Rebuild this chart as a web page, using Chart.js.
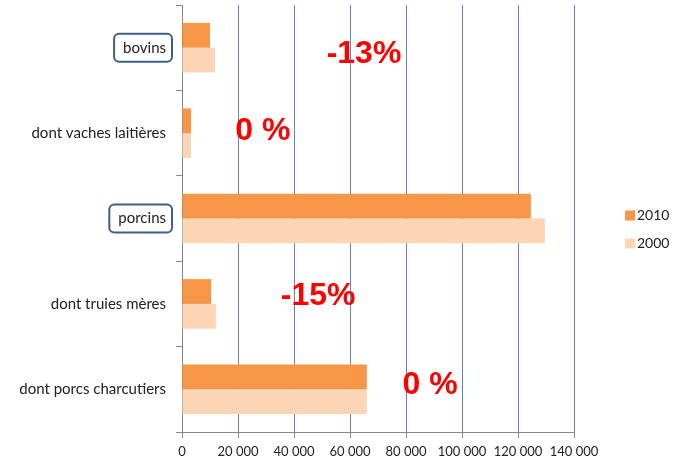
<!DOCTYPE html>
<html lang="fr">
<head>
<meta charset="UTF-8" />
<title>Cheptel 2000 / 2010</title>
<script src="https://cdn.jsdelivr.net/npm/chart.js@4.4.0/dist/chart.umd.min.js"></script>
<style>
  html, body { margin: 0; padding: 0; background: #fff; }
  #wrap { width: 675px; height: 459px; position: relative; }
</style>
</head>
<body>
<div id="wrap"><canvas id="chart"></canvas></div>
<script>
// data
const categories = ["bovins", "dont vaches laitières", "porcins", "dont truies mères", "dont porcs charcutiers"];
const values2010 = [10000, 3200, 124600, 10400, 66000];
const values2000 = [11800, 3200, 129600, 12100, 66000];
const seriesNames = ["2010", "2000"];
const xTicks = [0, 20000, 40000, 60000, 80000, 100000, 120000, 140000];
const boxedLabels = ["bovins", "porcins"];
// percent notes: text, category, x value where the text is centred
const noteTexts = ["-13%", "0 %", "-15%", "0 %"];
const noteCats = ["bovins", "dont vaches laitières", "dont truies mères", "dont porcs charcutiers"];
const noteX = [65000, 28900, 48600, 88600];
const noteDy = [6, -2, -8, -4];

const colors = ["#f79646", "#fcd5b5"];
const labelFont = "Lato, 'Open Sans', sans-serif";

function fmt(v) {
  return String(v).replace(/\B(?=(\d{3})+(?!\d))/g, " ");
}

// rounded boxes around some category labels, red notes and legend
const extras = {
  id: "extras",
  afterDraw(chart) {
    const ctx = chart.ctx;
    const y = chart.scales.y;
    const x = chart.scales.x;
    ctx.save();
    // boxes
    ctx.font = "15px " + labelFont;
    ctx.strokeStyle = "#3d5f8a";
    ctx.lineWidth = 2;
    boxedLabels.forEach((lab) => {
      const i = categories.indexOf(lab);
      const cy = y.getPixelForValue(i);
      const right = 172;
      const w = ctx.measureText(lab).width + 15;
      ctx.beginPath();
      ctx.roundRect(right - w, cy - 14, w, 28, 5);
      ctx.stroke();
    });
    // red notes
    ctx.fillStyle = "#ff0000";
    ctx.font = "bold 32px 'Liberation Sans', Arial, sans-serif";
    ctx.textAlign = "center";
    ctx.textBaseline = "middle";
    noteTexts.forEach((t, k) => {
      const px = x.getPixelForValue(noteX[k]);
      const py = y.getPixelForValue(categories.indexOf(noteCats[k])) + noteDy[k];
      ctx.fillText(t, px, py);
    });
    // legend
    ctx.font = "14px " + labelFont;
    ctx.textAlign = "left";
    const mid = (chart.chartArea.top + chart.chartArea.bottom) / 2;
    seriesNames.forEach((n, k) => {
      const ly = mid - 3 + k * 28;
      ctx.fillStyle = colors[k];
      ctx.fillRect(625, ly - 5, 10, 10);
      ctx.fillStyle = "#222";
      ctx.fillText(n, 637, ly);
    });
    ctx.restore();
  }
};

new Chart(document.getElementById("chart"), {
  type: "bar",
  data: {
    labels: categories,
    datasets: [
      { label: seriesNames[0], data: values2010, backgroundColor: colors[0] },
      { label: seriesNames[1], data: values2000, backgroundColor: colors[1] }
    ]
  },
  options: {
    indexAxis: "y",
    responsive: true,
    maintainAspectRatio: false,
    animation: false,
    layout: { padding: { top: 5, right: 101, left: 0, bottom: 0 } },
    datasets: { bar: { categoryPercentage: 0.58, barPercentage: 1 } },
    plugins: {
      legend: { display: false },
      tooltip: { enabled: false }
    },
    scales: {
      x: {
        min: 0,
        max: 140000,
        afterBuildTicks(scale) {
          scale.ticks = xTicks.map((v) => ({ value: v }));
        },
        afterFit(scale) { scale.height = 27; },
        ticks: {
          callback: (v) => fmt(v),
          color: "#222",
          font: { family: labelFont, size: 13 },
          padding: 6,
          maxRotation: 0
        },
        grid: {
          color: (c) => (c.index === 0 ? "#888" : "#5b87c5"),
          tickColor: "#888",
          tickLength: 6
        },
        border: { color: "#888" }
      },
      y: {
        afterFit(scale) {
          scale.width = 182;
          scale.paddingTop = 0;
          scale.paddingBottom = 0;
        },
        ticks: {
          color: "#222",
          font: { family: labelFont, size: 15 },
          padding: 10
        },
        grid: {
          drawOnChartArea: false,
          tickColor: "#888",
          tickLength: 6
        },
        border: { color: "#888" }
      }
    }
  },
  plugins: [extras]
});
</script>
</body>
</html>
